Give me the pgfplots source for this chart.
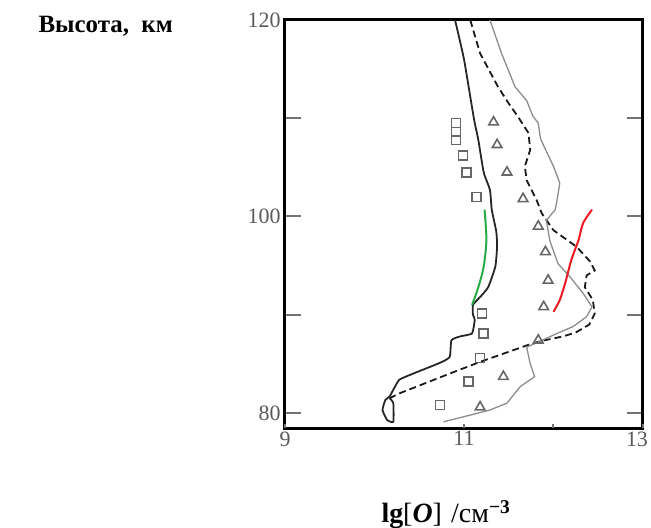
\documentclass[border=0pt]{standalone}
\usepackage{pgfplots}
\pgfplotsset{compat=1.18}
\usepackage{fontspec}
\setmainfont{Liberation Serif}
\definecolor{mygreen}{RGB}{40,170,70}
\definecolor{myred}{RGB}{240,25,35}
\begin{document}
\begin{tikzpicture}
\path[use as bounding box] (-285bp,-100bp) rectangle (366bp,428bp);
\begin{axis}[
  at={(0,0)}, anchor=south west,
  scale only axis, width=358bp, height=408bp,
  xmin=9, xmax=13, ymin=78.47, ymax=120,
  axis line style={line width=3bp},
  clip=false,
  ytick={80,90,100,110,120},
  yticklabels={80,,100,,120},
  major tick length=16bp,
  tick align=inside,
  tick style={line width=2bp, black!55},
  xtick=\empty,
  extra x ticks={9,11,12,13},
  extra x tick labels={9,11,,13\hspace*{12bp}},
  extra x tick style={major tick length=4bp, xtick pos=bottom},
  /pgf/number format/assume math mode=true,
  ticklabel style={font=\fontsize{22}{22}\selectfont, text=black!65},
  yticklabel style={xshift=-1bp},
]
% curve A
\addplot[black!85, line width=1.8bp, smooth, tension=0.3] coordinates {
(10.90,120) (11.00,116) (11.11,110) (11.16,107.8) (11.22,104.5) (11.29,102.7) (11.31,100.7)
(11.36,98.5) (11.37,97.0) (11.35,94.9) (11.27,92.8) (11.18,91.8) (11.10,91.0) (11.10,90.0)
(11.12,89.5) (11.09,88.1) (10.96,87.8) (10.86,87.4) (10.84,85.7) (10.73,85.1) (10.43,84.0)
(10.28,83.4) (10.23,82.7) (10.17,81.7) (10.12,81.3) (10.09,80.3) (10.14,79.3) (10.21,79.1)
(10.21,81.0) (10.17,81.5)};
% curve B (dashed)
\addplot[black!90, line width=1.8bp, dash pattern=on 7bp off 4bp] coordinates {
(11.07,120) (11.18,116.6) (11.38,113.2) (11.50,111.5) (11.60,110.2) (11.72,108.5) (11.74,106.8)
(11.68,105.1) (11.70,103.7) (11.81,101.7) (11.87,100.3) (12.00,98.6) (12.26,96.9) (12.41,95.4)
(12.46,94.5) (12.37,94.0) (12.35,92.8) (12.44,91.5) (12.46,90.1) (12.40,89.0) (12.25,88.2)
(12.11,87.8) (11.85,87.3) (11.74,87.0) (11.18,85.2) (10.81,83.9) (10.28,82.0) (10.17,81.5)};
% curve C (grey)
\addplot[black!45, line width=1.3bp] coordinates {
(11.29,120) (11.42,116.6) (11.57,113.2) (11.70,111.8) (11.77,110.2) (11.83,109.5) (11.85,108.2)
(11.86,107.8) (12.00,105.1) (12.07,103.4) (12.04,101.7) (12.02,100.7) (11.92,99.6) (11.96,97.5)
(12.05,95.2) (12.18,93.9) (12.33,92.2) (12.43,90.8) (12.37,89.8) (12.22,88.8) (12.04,88.1)
(11.85,87.3) (11.70,86.7) (11.74,85.0) (11.79,83.7) (11.63,82.7) (11.48,81.0) (11.29,80.3)
(10.99,79.6) (10.77,79.1)};
% green
\addplot[mygreen, line width=2bp, smooth] coordinates {
(11.23,100.7) (11.25,97.6) (11.22,94.9) (11.16,92.8) (11.09,91.0)};
% red
\addplot[myred, line width=2bp, smooth] coordinates {
(12.43,100.7) (12.33,99.3) (12.28,97.6) (12.20,95.6) (12.13,93.2) (12.07,91.5) (12.00,90.3)};
% squares
\addplot[only marks, mark=square, mark size=4.5bp, black!60, mark options={line width=1.6bp}] coordinates {
(10.91,109.5) (10.91,108.6) (10.91,107.8) (10.99,106.2) (11.03,104.5) (11.14,102.0)
(11.20,90.1) (11.22,88.1) (11.18,85.6) (11.05,83.2) (10.73,80.8)};
% triangles
\addplot[only marks, mark=triangle, mark size=5.5bp, black!60, mark options={line width=1.6bp}] coordinates {
(11.33,109.6) (11.37,107.3) (11.48,104.5) (11.66,101.8) (11.83,99.0) (11.91,96.4)
(11.94,93.5) (11.89,90.8) (11.83,87.4) (11.44,83.7) (11.18,80.6)};
\end{axis}
\node[anchor=base west, font=\bfseries\fontsize{25}{25}\selectfont] at (-250bp,395bp) {Высота,\ \ км};
\node[anchor=base west, font=\fontsize{28}{28}\selectfont] at (93bp,-94bp)
  {\textbf{lg}[\textbf{\textit{O}}]\,\,/см\textsuperscript{\textbf{−3}}};
\end{tikzpicture}
\end{document}
